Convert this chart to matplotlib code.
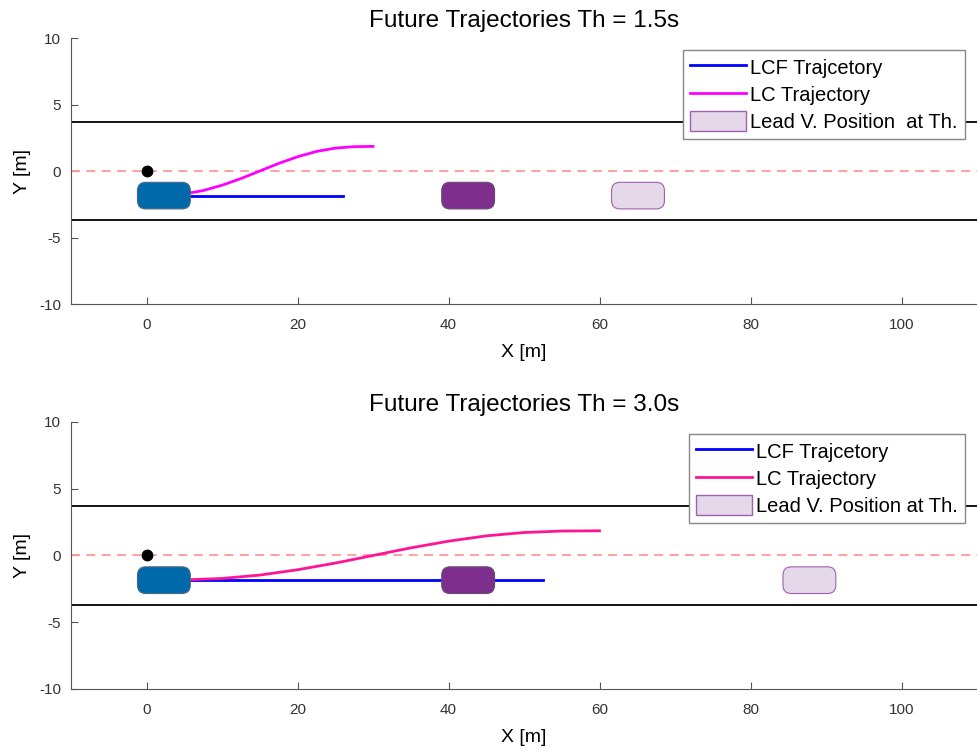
import numpy as np
import matplotlib.pyplot as plt
from matplotlib.patches import FancyBboxPatch, Patch
from matplotlib.lines import Line2D

plt.rcParams['font.family'] = ['Liberation Sans', 'DejaVu Sans']
plt.rcParams['axes.unicode_minus'] = False

# scenario values
horizons = [1.5, 3.0]
ego_x = 2.3
lane_center_y = -1.85
lane_edges = [3.7, -3.7]
car_len = 7.0
car_wid = 2.0
lead_now_x = 42.6
lead_future_x = [65.1, 87.8]
lcf_end_x = [26.0, 52.5]

# lane-change trajectories (x, y) per horizon
lc_x = [
    [0, 2.5, 5, 7.5, 10, 12.5, 15, 17.5, 20, 22.5, 25, 27.5, 30],
    [0, 5, 10, 15, 20, 25, 30, 35, 40, 45, 50, 55, 60],
]
lc_y = [
    [-1.85, -1.83, -1.72, -1.47, -1.07, -0.57, 0.0, 0.57, 1.07, 1.47, 1.72, 1.83, 1.85],
    [-1.85, -1.83, -1.72, -1.47, -1.07, -0.57, 0.0, 0.57, 1.07, 1.47, 1.72, 1.83, 1.85],
]
lc_colors = ['#FF00FF', '#FF1493']
legend_labels = ['Lead V. Position  at Th.', 'Lead V. Position at Th.']

fig = plt.figure(figsize=(9.77, 7.51), dpi=100)
ax_rects = [[0.0727, 0.5952, 0.9273, 0.3542], [0.0727, 0.0826, 0.9273, 0.3555]]


def car(ax, xc, face, edge, lw=0.8):
    p = FancyBboxPatch((xc - car_len / 2, lane_center_y - car_wid / 2), car_len, car_wid,
                       boxstyle="round,pad=0,rounding_size=1.1", mutation_aspect=0.57,
                       facecolor=face, edgecolor=edge, linewidth=lw, zorder=5)
    ax.add_patch(p)


for i, th in enumerate(horizons):
    ax = fig.add_axes(ax_rects[i])
    ax.set_xlim(-10, 110)
    ax.set_ylim(-10, 10)

    for ly in lane_edges:
        ax.plot([-10, 110], [ly, ly], color='black', lw=1.3, zorder=2)
    ax.plot([-10, 110], [0, 0], color='#FF9999', lw=1.3, dashes=(5, 3.5), zorder=2)

    ax.plot([0, lcf_end_x[i]], [lane_center_y, lane_center_y], color='#0000FF', lw=2, zorder=3)
    ax.plot(lc_x[i], lc_y[i], color=lc_colors[i], lw=2, zorder=3)

    car(ax, ego_x, '#0069AA', '#4a6a80')
    car(ax, lead_now_x, '#7E2F8E', '#6a4a70')
    car(ax, lead_future_x[i], '#E5D8E8', '#A060B0')
    ax.plot(0, 0, 'o', color='black', ms=7.5, zorder=6)

    ax.set_title(f'Future Trajectories Th = {th:.1f}s', fontsize=17.5, pad=8)
    ax.set_xlabel('X [m]', fontsize=14, labelpad=9)
    ax.set_ylabel('Y [m]', fontsize=14, labelpad=6)
    ax.set_xticks([0, 20, 40, 60, 80, 100])
    ax.set_yticks([-10, -5, 0, 5, 10])
    ax.tick_params(direction='in', labelsize=11, labelcolor='#333333', color='#555555',
                   length=5, pad=7)
    ax.tick_params(axis='x', pad=10)
    for s in ['top', 'right']:
        ax.spines[s].set_visible(False)
    for s in ['left', 'bottom']:
        ax.spines[s].set_color('#555555')

    handles = [
        Line2D([], [], color='#0000FF', lw=2),
        Line2D([], [], color=lc_colors[i], lw=2),
        Patch(facecolor='#E5D8E8', edgecolor='#A060B0'),
    ]
    leg = ax.legend(handles, ['LCF Trajcetory', 'LC Trajectory', legend_labels[i]],
                    loc='upper right', fontsize=14.5, fancybox=False, framealpha=1,
                    edgecolor='#888888', handlelength=2.8, handleheight=1.1,
                    handletextpad=0.2, borderpad=0.35, labelspacing=0.33,
                    borderaxespad=0.6)
    leg.get_frame().set_linewidth(1.0)
    leg.set_zorder(10)

fig.savefig('out.png', dpi=100)
